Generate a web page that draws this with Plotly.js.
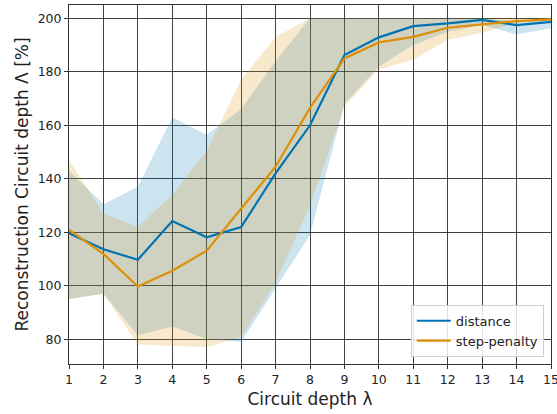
<!DOCTYPE html>
<html>
<head>
<meta charset="utf-8">
<script src="https://cdn.plot.ly/plotly-3.0.1.min.js"></script>
<style>html,body{margin:0;padding:0;background:#fff}#chart{width:557px;height:414px}</style>
</head>
<body>
<div id="chart"></div>
<script>
const depths = [1,2,3,4,5,6,7,8,9,10,11,12,13,14,15];
const distanceMean  = [119.6,113.6,109.7,124.2,118.1,121.9,142.0,160.0,186.3,192.9,197.1,198.1,199.4,197.5,198.7];
const distanceLower = [95,97,81.5,84.7,80,79,99,119,168,182,190,195,197.5,194,196.3];
const distanceUpper = [143,130.5,137,163,156.5,166,184,200,200,200,200,200,200,199,200];
const penaltyMean   = [120.9,111.9,99.7,105.6,113.1,128.6,144.5,166.5,185.0,191.0,193.1,196.5,197.8,199.0,199.6];
const penaltyLower  = [95,97,78,77.6,77,81,101,130,167,181,184.5,192,194.5,198.5,199];
const penaltyUpper  = [147,127,122,134,150.5,177,193,200,200,200,200,200,200,200,200];
const seriesNames = ['distance','step-penalty'];
const xTicks = depths;
const yTicks = [80,100,120,140,160,180,200];

const blue = '#0173b2', orange = '#de8f05';
function band(lower, upper, color) {
  return {
    x: depths.concat(depths.slice().reverse()),
    y: upper.concat(lower.slice().reverse()),
    type: 'scatter', mode: 'lines', fill: 'toself',
    fillcolor: color, line: {width: 0, color: 'rgba(0,0,0,0)'},
    showlegend: false, hoverinfo: 'skip'
  };
}
const traces = [
  band(distanceLower, distanceUpper, 'rgba(1,115,178,0.2)'),
  band(penaltyLower, penaltyUpper, 'rgba(222,143,5,0.2)'),
  {x: depths, y: distanceMean, type: 'scatter', mode: 'lines', name: seriesNames[0], line: {color: blue, width: 2.2}},
  {x: depths, y: penaltyMean, type: 'scatter', mode: 'lines', name: seriesNames[1], line: {color: orange, width: 2.2}}
];
const layout = {
  width: 557, height: 414,
  margin: {l: 69, r: 6, t: 5, b: 50},
  paper_bgcolor: '#fff', plot_bgcolor: '#fff',
  font: {family: 'DejaVu Sans, sans-serif', size: 12.5, color: '#222'},
  showlegend: true,
  legend: {x: 0.985, y: 0.02, xanchor: 'right', yanchor: 'bottom',
    bgcolor: 'rgba(255,255,255,0.85)', bordercolor: '#d0d0d0', borderwidth: 1,
    font: {size: 13, color: '#222'}, itemwidth: 34, tracegroupgap: 0},
  xaxis: {
    range: [1, 15], tickvals: xTicks, ticktext: xTicks.map(String),
    ticklabeloverflow: 'allow',
    showgrid: true, gridcolor: 'rgba(0,0,0,0.75)', gridwidth: 1,
    showline: true, linecolor: '#333', linewidth: 1, mirror: true,
    ticks: 'outside', ticklen: 4, tickcolor: '#333', zeroline: false,
    title: {text: 'Circuit depth λ', font: {size: 17, color: '#222'}, standoff: 7}
  },
  yaxis: {
    range: [70.7, 205], tickvals: yTicks, ticktext: yTicks.map(String),
    showgrid: true, gridcolor: 'rgba(0,0,0,0.75)', gridwidth: 1,
    showline: true, linecolor: '#333', linewidth: 1, mirror: true,
    ticks: 'outside', ticklen: 4, tickcolor: '#333', zeroline: false,
    title: {text: 'Reconstruction Circuit depth Λ [%]', font: {size: 17, color: '#222'}, standoff: 4}
  }
};
Plotly.newPlot('chart', traces, layout, {displayModeBar: false, staticPlot: true});
</script>
</body>
</html>
